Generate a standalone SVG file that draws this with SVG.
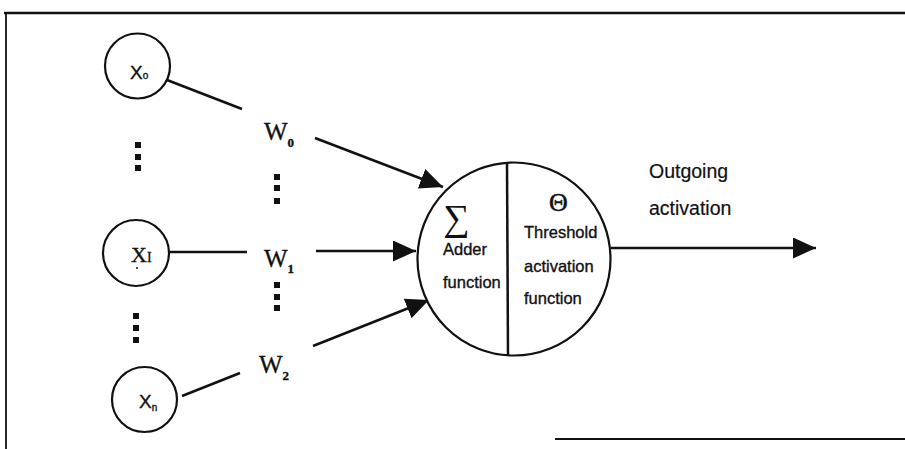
<svg xmlns="http://www.w3.org/2000/svg" width="905" height="449" viewBox="0 0 905 449">
<style>
.ln{stroke:#111;fill:none;stroke-width:2.5}
.nd{stroke:#111;fill:#fff;stroke-width:2.2}
.sans{font-family:"Liberation Sans",Arial,sans-serif;fill:#111}
.serif{font-family:"Liberation Serif","Times New Roman",serif;fill:#111}
.bd{stroke:#111;stroke-width:0.35}
.dot{fill:#111}
</style>
<defs>
<marker id="ah" markerUnits="userSpaceOnUse" markerWidth="26" markerHeight="22" refX="23" refY="10.5" orient="auto">
<path d="M0,0 L23,10.5 L0,21 z" fill="#111"/>
</marker>
</defs>
<rect width="905" height="449" fill="#fff"/>
<g id="frame">
<line x1="4" y1="13" x2="905" y2="13" stroke="#111" stroke-width="2.4"/>
<line x1="6" y1="13" x2="6" y2="449" stroke="#111" stroke-width="1.8"/>
<line x1="555" y1="439" x2="905" y2="439" stroke="#111" stroke-width="2"/>
</g>
<g id="connectors">
<line class="ln" x1="167" y1="80" x2="242" y2="109" stroke-width="2.8"/>
<line class="ln" x1="169" y1="252" x2="247" y2="252"/>
<line class="ln" x1="182" y1="396" x2="240" y2="373" stroke-width="2.8"/>
<line class="ln" x1="315" y1="138" x2="443" y2="187" marker-end="url(#ah)"/>
<line class="ln" x1="316" y1="251" x2="416" y2="251" marker-end="url(#ah)"/>
<line class="ln" x1="313" y1="346" x2="429" y2="300" marker-end="url(#ah)"/>
<line class="ln" x1="611" y1="248" x2="816" y2="248" marker-end="url(#ah)"/>
</g>
<g id="x0">
<circle class="nd" cx="137.5" cy="66" r="32.5"/>
<text class="sans bd" x="130" y="79" font-size="19">X<tspan font-size="10">o</tspan></text>
</g>
<g id="x1">
<circle class="nd" cx="136" cy="253" r="33"/>
<text class="serif bd" x="131" y="262" font-size="22">X<tspan font-size="14">I</tspan></text>
<circle cx="137" cy="268" r="1" fill="#111"/>
</g>
<g id="xn">
<circle class="nd" cx="144.5" cy="399.5" r="32.5"/>
<text class="sans bd" x="139" y="408" font-size="19">X<tspan font-size="10" dy="3">n</tspan></text>
</g>
<g id="dots">
<rect class="dot" x="135" y="142" width="6" height="6"/>
<rect class="dot" x="135" y="154" width="6" height="6"/>
<rect class="dot" x="135" y="165" width="6" height="6"/>
<rect class="dot" x="133" y="313" width="6" height="6"/>
<rect class="dot" x="133" y="325" width="6" height="6"/>
<rect class="dot" x="133" y="337" width="6" height="6"/>
<rect class="dot" x="274" y="174" width="6" height="6"/>
<rect class="dot" x="274" y="185" width="6" height="6"/>
<rect class="dot" x="274" y="198" width="6" height="6"/>
<rect class="dot" x="274" y="282" width="6" height="6"/>
<rect class="dot" x="274" y="294" width="6" height="6"/>
<rect class="dot" x="274" y="305" width="6" height="6"/>
</g>
<g id="weights">
<text class="serif bd" x="264" y="140" font-size="25">W<tspan font-size="13" font-weight="bold" dy="7">0</tspan></text>
<text class="serif bd" x="264" y="267" font-size="25">W<tspan font-size="13" font-weight="bold" dy="6">1</tspan></text>
<text class="serif bd" x="259" y="373" font-size="25">W<tspan font-size="13" font-weight="bold" dy="7">2</tspan></text>
</g>
<g id="neuron">
<circle class="nd" cx="514" cy="259" r="96.5"/>
<line class="ln" x1="507" y1="163" x2="508" y2="355" stroke-width="2.2"/>
<text class="serif" x="443" y="230" font-size="37">∑</text>
<text class="sans bd" x="443" y="255" font-size="16.5">Adder</text>
<text class="sans bd" x="443" y="288" font-size="16.5">function</text>
<text class="serif" x="549" y="211" font-size="26" stroke="#111" stroke-width="0.5">Θ</text>
<text class="sans bd" x="524" y="238" font-size="16.5">Threshold</text>
<text class="sans bd" x="524" y="272" font-size="16.5">activation</text>
<text class="sans bd" x="524" y="304" font-size="16.5">function</text>
</g>
<g id="output-label">
<text class="sans" x="649" y="178" font-size="19.5" stroke="#111" stroke-width="0.2">Outgoing</text>
<text class="sans" x="649" y="215" font-size="19.5" stroke="#111" stroke-width="0.2">activation</text>
</g>
</svg>
